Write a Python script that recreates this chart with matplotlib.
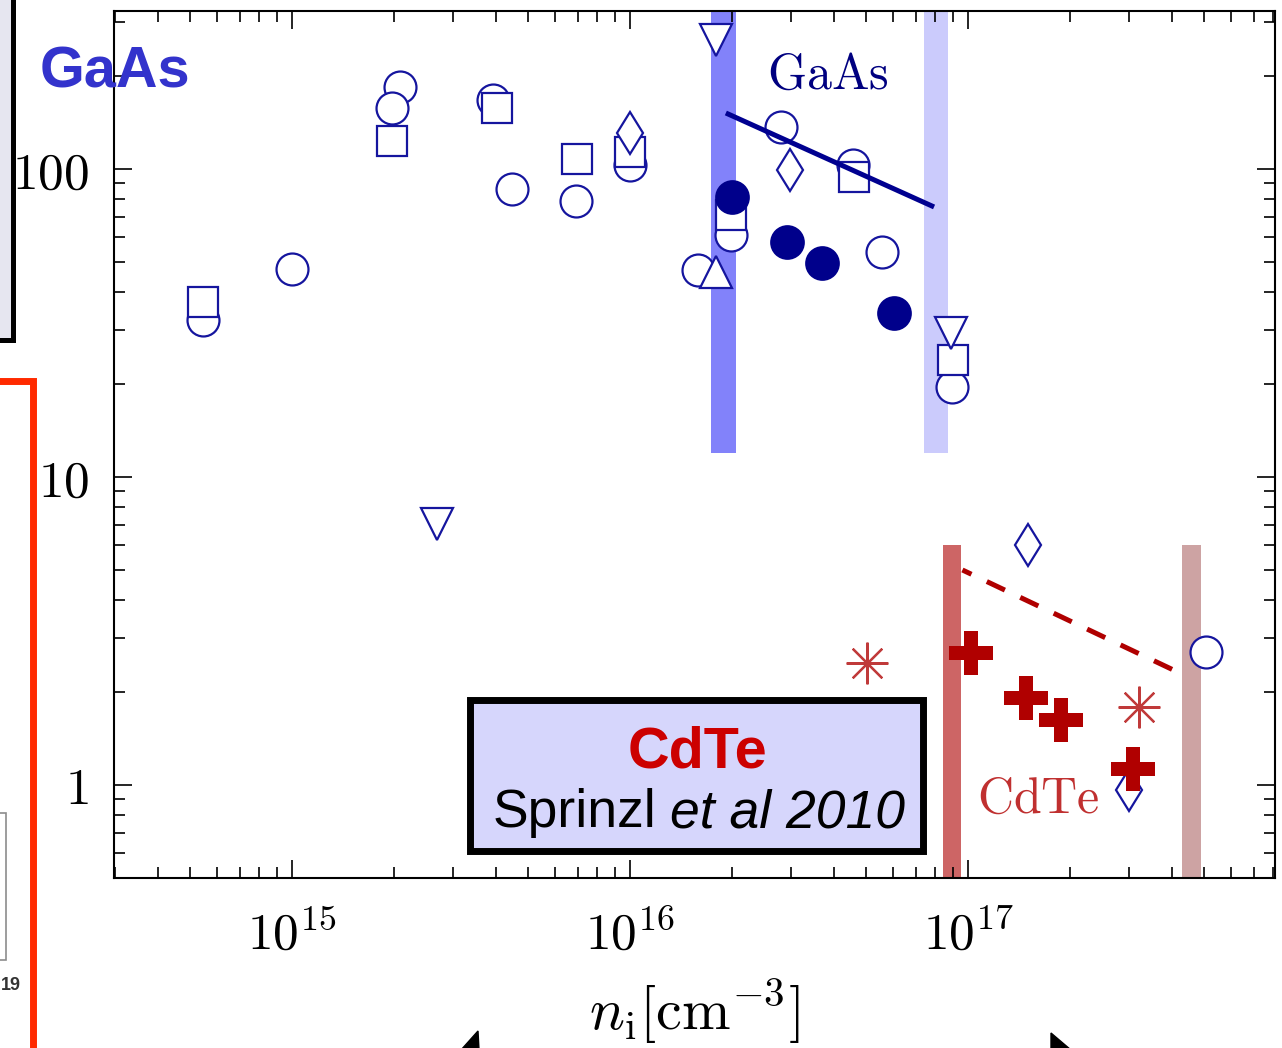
import matplotlib
matplotlib.use('Agg')
import matplotlib.pyplot as plt
import numpy as np
from matplotlib.ticker import LogLocator, NullFormatter, FixedLocator, FixedFormatter
from matplotlib.patches import Rectangle, Polygon

plt.rcParams['mathtext.fontset'] = 'cm'

# ---------------- data ----------------
# GaAs open circles
circ_x = [5.44e14, 1.0e15, 2.08e15, 1.98e15, 3.94e15, 4.46e15, 6.93e15, 1.0e16,
          1.59e16, 1.99e16, 2.80e16, 4.57e16, 5.56e16, 8.98e16, 5.06e17]
circ_y = [32.4, 47.3, 184.6, 157.8, 167.6, 86.1, 78.7, 103,
          47.0, 61.1, 136.9, 103, 53.8, 19.6, 2.70]
# GaAs open squares
sq_x = [5.44e14, 1.98e15, 4.03e15, 6.98e15, 1.0e16, 1.99e16, 4.60e16, 9.04e16]
sq_y = [37.0, 123.3, 157.8, 107.7, 113.5, 70.9, 94.2, 24.0]
# open thin diamonds
dia_x = [1.0e16, 2.98e16, 1.50e17, 3.0e17]
dia_y = [130.8, 99.3, 6.01, 0.964]
# open down triangles
tdn_x = [1.80e16, 2.69e15, 8.91e16]
tdn_y = [262, 7.03, 29.4]
# open up triangle
tup_x = [1.80e16]
tup_y = [46.4]
# filled circles
fc_x = [2.00e16, 2.92e16, 3.70e16, 6.04e16]
fc_y = [81.1, 57.9, 49.5, 34.0]
# GaAs trend line
gaas_line_x = [1.92e16, 7.93e16]
gaas_line_y = [152, 75.3]
# CdTe filled crosses
cr_x = [1.02e17, 1.48e17, 1.88e17, 3.07e17]
cr_y = [2.69, 1.91, 1.63, 1.13]
# CdTe asterisks
ast_x = [5.03e16, 3.20e17]
ast_y = [2.49, 1.79]
# CdTe dashed trend line
cdte_line_x = [9.62e16, 4.30e17]
cdte_line_y = [4.99, 2.29]
# vertical bands: (x_lo, x_hi, y_lo, y_hi)
gaas_band1 = (1.74e16, 2.06e16, 12.0, 1000)
gaas_band2 = (7.41e16, 8.73e16, 12.0, 1000)
cdte_band1 = (8.43e16, 9.53e16, 0.1, 6.0)
cdte_band2 = (4.30e17, 4.90e17, 0.1, 6.0)

x_major = [1e15, 1e16, 1e17]
x_labels = [r'$10^{15}$', r'$10^{16}$', r'$10^{17}$']
y_major = [1, 10, 100]
y_labels = [r'$1$', r'$10$', r'$100$']

# ---------------- figure ----------------
W, H = 1282, 1048
fig = plt.figure(figsize=(W / 100, H / 100), dpi=100)


def fx(p):
    return p / W


def fy(p):
    return 1 - p / H


ax = fig.add_axes([fx(114), fy(878), fx(1275) - fx(114), fy(11) - fy(878)])
ax.set_xscale('log')
ax.set_yscale('log')
ax.set_xlim(10 ** 14.473, 10 ** 17.908)
ax.set_ylim(10 ** -0.302, 10 ** 2.513)

# bands
for band, col in [(gaas_band1, '#8282fa'), (gaas_band2, '#cbcbfc'),
                  (cdte_band1, '#cd6565'), (cdte_band2, '#cda3a3')]:
    ax.fill_between([band[0], band[1]], band[2], band[3], color=col, lw=0, zorder=1)

navy = '#15159e'
mk = dict(ls='none', mfc='white', mec=navy, mew=1.6)
ax.plot(circ_x, circ_y, marker='o', ms=23, zorder=3, **mk)
ax.plot(sq_x, sq_y, marker='s', ms=21.5, zorder=3.1, **mk)
ax.plot(dia_x, dia_y, marker='d', ms=21.5, zorder=3.2, **mk)
ax.plot(tdn_x, tdn_y, marker='v', ms=23, zorder=3.3, **mk)
ax.plot(tup_x, tup_y, marker='^', ms=23, zorder=3.3, **mk)
ax.plot(fc_x, fc_y, ls='none', marker='o', ms=25, mfc='#00008b', mec='#00008b',
        mew=0, zorder=4)
ax.plot(gaas_line_x, gaas_line_y, color='#000090', lw=3.6, zorder=5,
        solid_capstyle='butt')

ax.plot(cr_x, cr_y, ls='none', marker='P', ms=31, mfc='#b00000', mec='#b00000',
        mew=0, zorder=4.5)
ax.plot(ast_x, ast_y, ls='none', marker=(8, 2, 0), ms=30, mec='#c03a3a',
        mew=1.6, zorder=4)
ax.plot(cdte_line_x, cdte_line_y, color='#b00000', lw=3.6, ls=(2.0, (4.0, 3.4)),
        zorder=5)

ax.text(0.615, 0.926, r'$\mathrm{GaAs}$', transform=ax.transAxes, ha='center',
        va='center', fontsize=36, color='#000080', zorder=6)
ax.text(0.796, 0.092, r'$\mathrm{CdTe}$', transform=ax.transAxes, ha='center',
        va='center', fontsize=36, color='#c03030', zorder=6)

# axes styling
for s in ax.spines.values():
    s.set_linewidth(1.5)
ax.xaxis.set_major_locator(FixedLocator(x_major))
ax.xaxis.set_major_formatter(FixedFormatter(x_labels))
ax.yaxis.set_major_locator(FixedLocator(y_major))
ax.yaxis.set_major_formatter(FixedFormatter(y_labels))
ax.xaxis.set_minor_locator(LogLocator(base=10, subs=np.arange(2, 10), numticks=100))
ax.yaxis.set_minor_locator(LogLocator(base=10, subs=np.arange(2, 10), numticks=100))
ax.xaxis.set_minor_formatter(NullFormatter())
ax.yaxis.set_minor_formatter(NullFormatter())
ax.tick_params(which='both', direction='in', top=True, right=True, width=1.2,
               colors='black')
ax.tick_params(which='major', length=13, labelsize=37)
ax.tick_params(axis='x', which='major', pad=23)
ax.tick_params(axis='y', which='major', pad=18)
ax.tick_params(which='minor', length=8)
ax.set_xlabel(r'$n_\mathrm{i}[\mathrm{cm}^{-3}]$', fontsize=42, labelpad=12)

# ---------------- slide decorations ----------------
# top-left box
fig.add_artist(Rectangle((fx(-40), fy(340)), fx(12.5) - fx(-40), 1.2,
                         transform=fig.transFigure, facecolor='#e6e6f0',
                         edgecolor='black', lw=3.6, zorder=0.5))
fig.text(fx(40), fy(88), 'GaAs', fontsize=41.5, fontweight='bold', color='#3333cc',
         family='Liberation Sans', ha='left', va='baseline', zorder=7)
# red outline
fig.add_artist(Rectangle((fx(-40), fy(1150)), fx(32.5) - fx(-40), fy(381) - fy(1150),
                         transform=fig.transFigure, facecolor='none',
                         edgecolor='#ff2a00', lw=5, zorder=0.6))
# small grey box
fig.add_artist(Rectangle((fx(-40), fy(960)), fx(6) - fx(-40), fy(813) - fy(960),
                         transform=fig.transFigure, facecolor='white',
                         edgecolor='#8c8c8c', lw=1.2, zorder=0.7))
fig.text(fx(1), fy(990), '19', fontsize=13, fontweight='bold', color='#333333',
         family='Liberation Sans', ha='left', va='baseline', zorder=7)

# CdTe box
fig.add_artist(Rectangle((fx(470), fy(851)), fx(923) - fx(470), fy(700) - fy(851),
                         transform=fig.transFigure, facecolor='#d6d6fc',
                         edgecolor='black', lw=5, zorder=8))
fig.text(fx(697.5), fy(767), 'CdTe', fontsize=41.5, fontweight='bold', color='#cc0000',
         family='Liberation Sans', ha='center', va='baseline', zorder=9)
fig.text(fx(493), fy(827), 'Sprinzl', fontsize=38.5, color='black',
         family='Liberation Sans', ha='left', va='baseline', zorder=9)
fig.text(fx(670), fy(827), 'et al 2010', fontsize=38.5, color='black', style='italic',
         family='Liberation Sans', ha='left', va='baseline', zorder=9)

# arrow tips at bottom
fig.add_artist(Polygon([(fx(461), fy(1050)), (fx(478), fy(1031)), (fx(479), fy(1050))],
                       closed=True, transform=fig.transFigure, facecolor='black',
                       edgecolor='black', zorder=9))
fig.add_artist(Polygon([(fx(1051), fy(1033)), (fx(1071), fy(1050)), (fx(1051), fy(1050))],
                       closed=True, transform=fig.transFigure, facecolor='black',
                       edgecolor='black', zorder=9))

fig.savefig('out.png', dpi=100)
